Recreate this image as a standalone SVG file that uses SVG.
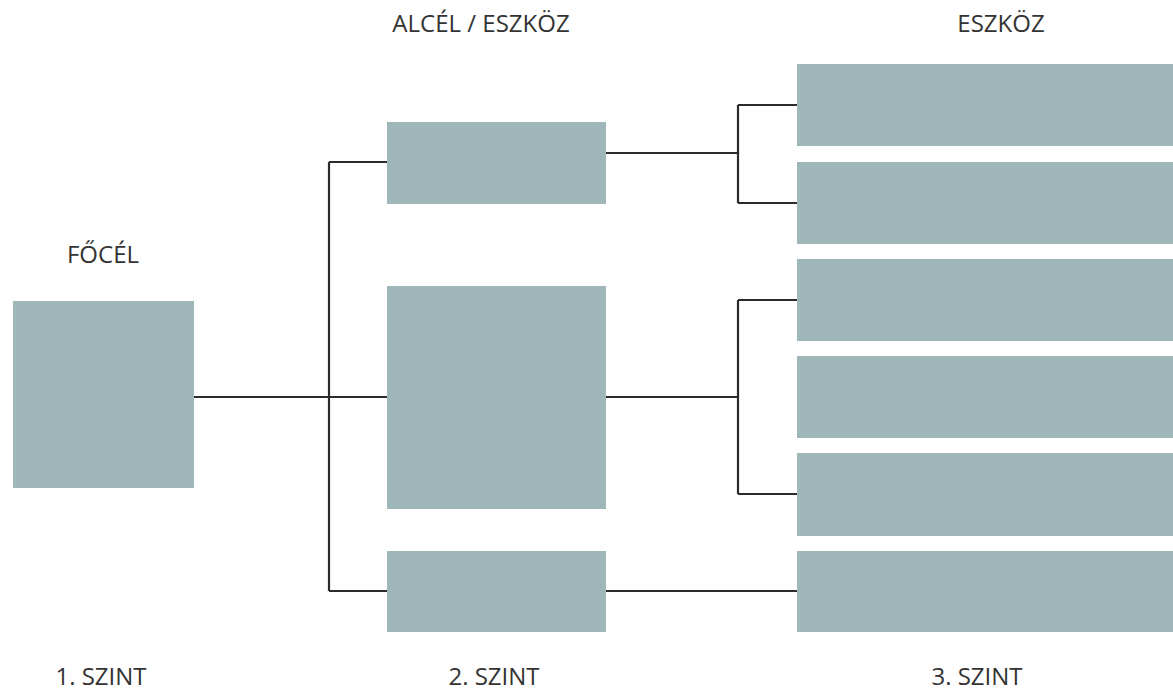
<svg xmlns="http://www.w3.org/2000/svg" width="1173" height="691" viewBox="0 0 1173 691">
<style>
.box{fill:#9fb7b9}
.ln{fill:none;stroke:#2b2b2b;stroke-width:2.2}
.t{font-family:"Open Sans","Liberation Sans",sans-serif;font-size:24px;fill:#333;text-anchor:middle}
</style>
<rect width="1173" height="691" fill="#fff"/>
<g id="labels">
<text class="t" x="481" y="32">ALCÉL / ESZKÖZ</text>
<text class="t" x="1001" y="32">ESZKÖZ</text>
<text class="t" x="103" y="263">FŐCÉL</text>
<text class="t" x="101" y="685">1. SZINT</text>
<text class="t" x="494" y="685">2. SZINT</text>
<text class="t" x="977" y="685">3. SZINT</text>
</g>
<g id="connectors">
<path class="ln" d="M194 397H387M329 162V591M329 162H387M329 591H387"/>
<path class="ln" d="M606 153H738M738 105V203M738 105H797M738 203H797"/>
<path class="ln" d="M606 397H738M738 300V494M738 300H797M738 494H797"/>
<path class="ln" d="M606 591H797"/>
</g>
<g id="n1"><rect class="box" x="13" y="301" width="181" height="187"/></g>
<g id="n2a"><rect class="box" x="387" y="122" width="219" height="82"/></g>
<g id="n2b"><rect class="box" x="387" y="286" width="219" height="223"/></g>
<g id="n2c"><rect class="box" x="387" y="551" width="219" height="81"/></g>
<g id="n3a"><rect class="box" x="797" y="64" width="376" height="82"/></g>
<g id="n3b"><rect class="box" x="797" y="162" width="376" height="82"/></g>
<g id="n3c"><rect class="box" x="797" y="259" width="376" height="82"/></g>
<g id="n3d"><rect class="box" x="797" y="356" width="376" height="82"/></g>
<g id="n3e"><rect class="box" x="797" y="453" width="376" height="83"/></g>
<g id="n3f"><rect class="box" x="797" y="551" width="376" height="81"/></g>
</svg>
